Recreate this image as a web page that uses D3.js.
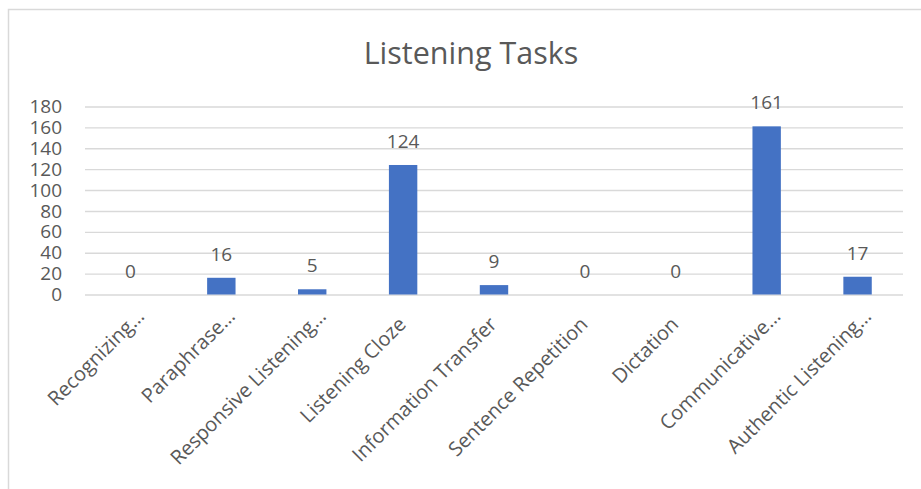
<!DOCTYPE html>
<html>
<head>
<meta charset="utf-8">
<script src="https://cdn.jsdelivr.net/npm/d3@7"></script>
<style>
  html, body { margin: 0; padding: 0; background: #ffffff; }
  svg { display: block; }
  text { font-family: "Open Sans", sans-serif; fill: #595959; }
</style>
</head>
<body>
<svg id="chart" width="921" height="489"></svg>
<script>
const categories = ["Recognizing…", "Paraphrase…", "Responsive Listening…", "Listening Cloze", "Information Transfer", "Sentence Repetition", "Dictation", "Communicative…", "Authentic Listening…"];
const values = [0, 16, 5, 124, 9, 0, 0, 161, 17];
const yTicks = [0, 20, 40, 60, 80, 100, 120, 140, 160, 180];
const title = "Listening Tasks";

const FONT = "'Open Sans', sans-serif";
const svg = d3.select("#chart");

// chart frame
svg.append("rect")
  .attr("x", 8.5).attr("y", 9.5)
  .attr("width", 1000).attr("height", 1000)
  .attr("fill", "none").attr("stroke", "#d9d9d9").attr("stroke-width", 1.5);

const x = d3.scaleBand().domain(categories).range([85, 903])
  .paddingInner(0.6875).paddingOuter(0.34375);
const y = d3.scaleLinear().domain([0, 180]).range([294.5, 106.5]);

// gridlines + y labels
const yAxis = d3.axisLeft(y).tickValues(yTicks).tickSize(-(903 - 85)).tickPadding(23).tickFormat(d3.format("d"));
const gy = svg.append("g").attr("transform", "translate(85,0)").call(yAxis);
gy.select(".domain").remove();
gy.selectAll(".tick line").attr("stroke", "#d9d9d9").attr("stroke-width", 1.4);
gy.selectAll(".tick text").attr("font-size", 19).attr("fill", "#595959").style("font-family", FONT);

// bars
svg.append("g").selectAll("rect").data(values).join("rect")
  .attr("x", (d, i) => x(categories[i]))
  .attr("width", x.bandwidth())
  .attr("y", d => y(d))
  .attr("height", d => y(0) - y(d))
  .attr("fill", "#4472C4");

// value labels
svg.append("g").selectAll("text").data(values).join("text")
  .attr("x", (d, i) => x(categories[i]) + x.bandwidth() / 2)
  .attr("y", d => y(d) - 17)
  .attr("text-anchor", "middle")
  .attr("font-size", 19)
  .text(d => d);

// x axis labels (rotated)
const xAxis = d3.axisBottom(x).tickSize(0).tickPadding(0);
const gx = svg.append("g").attr("transform", "translate(0,294.5)").call(xAxis);
gx.select(".domain").remove();
gx.selectAll(".tick text")
  .attr("font-size", 20).attr("fill", "#595959")
  .style("font-family", FONT)
  .attr("text-anchor", "end")
  .attr("x", 0).attr("y", 0).attr("dy", 0)
  .attr("transform", d => d.endsWith("…") ? "translate(15,23) rotate(-45)" : "translate(4,31) rotate(-45)");

// title
svg.append("text")
  .attr("x", 471).attr("y", 64)
  .attr("text-anchor", "middle")
  .attr("font-size", 30.5)
  .text(title);
</script>
</body>
</html>
